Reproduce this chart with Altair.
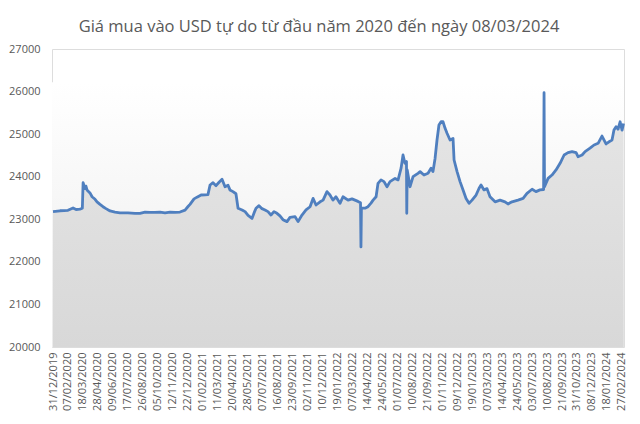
import json
import altair as alt
import pandas as pd

TITLE = "Giá mua vào USD tự do từ đầu năm 2020 đến ngày 08/03/2024"

# Category-axis tick labels (every label slot on the Excel category axis)
tick_labels = [
    "31/12/2019", "07/02/2020", "18/03/2020", "28/04/2020", "09/06/2020",
    "17/07/2020", "26/08/2020", "05/10/2020", "12/11/2020", "22/12/2020",
    "01/02/2021", "11/03/2021", "20/04/2021", "28/05/2021", "07/07/2021",
    "16/08/2021", "23/09/2021", "02/11/2021", "10/12/2021", "19/01/2022",
    "07/03/2022", "14/04/2022", "24/05/2022", "01/07/2022", "10/08/2022",
    "21/09/2022", "01/11/2022", "09/12/2022", "19/01/2023", "07/03/2023",
    "14/04/2023", "24/05/2023", "03/07/2023", "10/08/2023", "21/09/2023",
    "31/10/2023", "08/12/2023", "18/01/2024", "27/02/2024",
]

# Position along the category axis, measured in label slots
# (0 = 31/12/2019, 38 = 27/02/2024), read from the picture
x_pos = [
    0.00, 0.47, 1.00, 1.34, 1.54, 1.80, 1.96, 2.01, 2.14, 2.20,
    2.27, 2.47, 2.61, 2.81, 2.94, 3.14, 3.34, 3.54, 3.81, 4.14,
    4.48, 5.01, 5.48, 5.81, 6.15, 6.48, 6.81, 7.15, 7.48, 7.82,
    8.15, 8.48, 8.82, 9.02, 9.15, 9.42, 9.62, 9.89, 10.15, 10.35,
    10.49, 10.69, 10.89, 11.09, 11.29, 11.49, 11.69, 11.82, 12.02, 12.22,
    12.36, 12.63, 12.83, 13.03, 13.29, 13.43, 13.56, 13.76, 13.96, 14.16,
    14.36, 14.56, 14.76, 14.96, 15.16, 15.36, 15.63, 15.83, 16.17, 16.37,
    16.63, 16.90, 17.17, 17.37, 17.57, 17.84, 18.04, 18.30, 18.50, 18.70,
    18.90, 19.17, 19.37, 19.71, 19.97, 20.17, 20.37, 20.54, 20.57, 20.60,
    20.84, 21.04, 21.24, 21.38, 21.58, 21.71, 21.91, 22.11, 22.31, 22.51,
    22.85, 23.05, 23.25, 23.38, 23.51, 23.61, 23.63, 23.66, 23.85, 24.05,
    24.38, 24.52, 24.78, 25.05, 25.25, 25.38, 25.52, 25.65, 25.78, 25.92,
    26.05, 26.19, 26.32, 26.52, 26.72, 26.79, 26.99, 27.19, 27.39, 27.59,
    27.79, 27.99, 28.26, 28.46, 28.59, 28.79, 28.99, 29.19, 29.53, 29.86,
    30.19, 30.39, 30.66, 31.06, 31.40, 31.66, 32.00, 32.26, 32.53, 32.77,
    32.80, 32.83, 33.07, 33.33, 33.60, 33.87, 34.14, 34.40, 34.67, 34.94,
    35.07, 35.34, 35.54, 35.87, 36.14, 36.41, 36.67, 36.81, 36.94, 37.14,
    37.34, 37.47, 37.61, 37.74, 37.88, 38.01, 38.11,
]

# USD buying price (VND)
usd_buy = [
    23180, 23200, 23210, 23265, 23230, 23240, 23260, 23860, 23720, 23780,
    23690, 23620, 23530, 23470, 23410, 23350, 23295, 23250, 23195, 23170,
    23150, 23150, 23140, 23140, 23170, 23160, 23160, 23170, 23150, 23170,
    23160, 23170, 23215, 23300, 23350, 23480, 23520, 23570, 23575, 23580,
    23805, 23860, 23790, 23870, 23940, 23765, 23800, 23690, 23650, 23600,
    23260, 23220, 23180, 23090, 23020, 23150, 23260, 23320, 23250, 23220,
    23180, 23100, 23180, 23140, 23080, 22990, 22945, 23045, 23060, 22945,
    23100, 23220, 23295, 23490, 23335, 23410, 23450, 23650, 23570, 23450,
    23530, 23375, 23530, 23450, 23480, 23450, 23420, 23390, 22350, 23260,
    23260, 23295, 23380, 23450, 23530, 23845, 23925, 23885, 23765, 23885,
    23960, 23925, 24200, 24510, 24315, 24355, 23140, 24160, 23765, 24000,
    24080, 24120, 24040, 24080, 24200, 24120, 24430, 24862, 25215, 25292,
    25292, 25137, 25020, 24862, 24900, 24393, 24120, 23885, 23690, 23490,
    23375, 23450, 23570, 23730, 23805, 23690, 23720, 23530, 23410, 23450,
    23410, 23360, 23410, 23450, 23490, 23610, 23705, 23650, 23690, 23700,
    25975, 23765, 23960, 24040, 24160, 24315, 24510, 24565, 24590, 24565,
    24470, 24510, 24590, 24670, 24745, 24785, 24955, 24860, 24770, 24820,
    24860, 25095, 25175, 25115, 25290, 25095, 25250,
]

y_ticks = [20000, 21000, 22000, 23000, 24000, 25000, 26000, 27000]

df = pd.DataFrame({"pos": x_pos, "usd": usd_buy})

x_domain = [-0.067, 38.14]
y_domain = [20000, 27000]

label_expr = json.dumps(tick_labels) + "[round(datum.value)]"


def x_axis_enc(field):
    return alt.X(
        field,
        scale=alt.Scale(domain=x_domain, nice=False, zero=False),
        axis=alt.Axis(
            values=list(range(len(tick_labels))),
            labelExpr=label_expr,
            labelAngle=270,
            labelAlign="right",
            labelBaseline="middle",
            labelPadding=5,
            labelFontSize=11,
            labelColor="#595959",
            labelFont="Open Sans",
            labelOverlap=False,
            labelFlush=False,
            labelBound=False,
            ticks=False,
            tickSize=0,
            domain=False,
            grid=False,
            title=None,
        ),
    )


def y_axis_enc(field):
    return alt.Y(
        field,
        scale=alt.Scale(domain=y_domain, nice=False, zero=False),
        axis=alt.Axis(
            values=y_ticks,
            format="d",
            labelPadding=12,
            labelFontSize=11,
            labelColor="#595959",
            labelFont="Open Sans",
            labelOverlap=False,
            ticks=False,
            tickSize=0,
            domain=False,
            grid=False,
            title=None,
        ),
    )


bg_df = pd.DataFrame({"x0": [x_domain[0]], "x1": [x_domain[1]], "y0": [26220], "y1": [20000]})
background = alt.Chart(bg_df).mark_rect(
    color=alt.Gradient(
        gradient="linear",
        stops=[alt.GradientStop(color="#ffffff", offset=0),
               alt.GradientStop(color="#ececec", offset=1)],
        x1=0, x2=0, y1=0, y2=1,
    )
).encode(
    x=x_axis_enc("x0:Q"),
    x2="x1:Q",
    y=y_axis_enc("y0:Q"),
    y2="y1:Q",
)

area = alt.Chart(df).mark_area(
    color=alt.Gradient(
        gradient="linear",
        stops=[alt.GradientStop(color="#e6e6e6", offset=0),
               alt.GradientStop(color="#d8d8d8", offset=1)],
        x1=0, x2=0, y1=0, y2=1,
    ),
    interpolate="linear",
).encode(x=x_axis_enc("pos:Q"), y=y_axis_enc("usd:Q"), y2=alt.Y2(datum=20000))

line = alt.Chart(df).mark_line(color="#4f7fbf", strokeWidth=2.8, strokeJoin="round").encode(
    x=x_axis_enc("pos:Q"),
    y=y_axis_enc("usd:Q"),
)

chart = alt.layer(background, area, line).properties(
    width=572,
    height=298,
    autosize=alt.AutoSizeParams(type="none"),
    padding={"left": 44, "top": 41, "right": 8, "bottom": 69},
    title=alt.Title(
        TITLE,
        font="Open Sans",
        fontSize=16.5,
        fontWeight="normal",
        color="#595959",
        anchor="middle",
        dx=-19,
        dy=25,
        offset=20,
        baseline="alphabetic",
    ),
).configure_view(stroke=None).configure(background="white")

chart.save("out.html", embed_options={"renderer": "svg", "actions": False})
